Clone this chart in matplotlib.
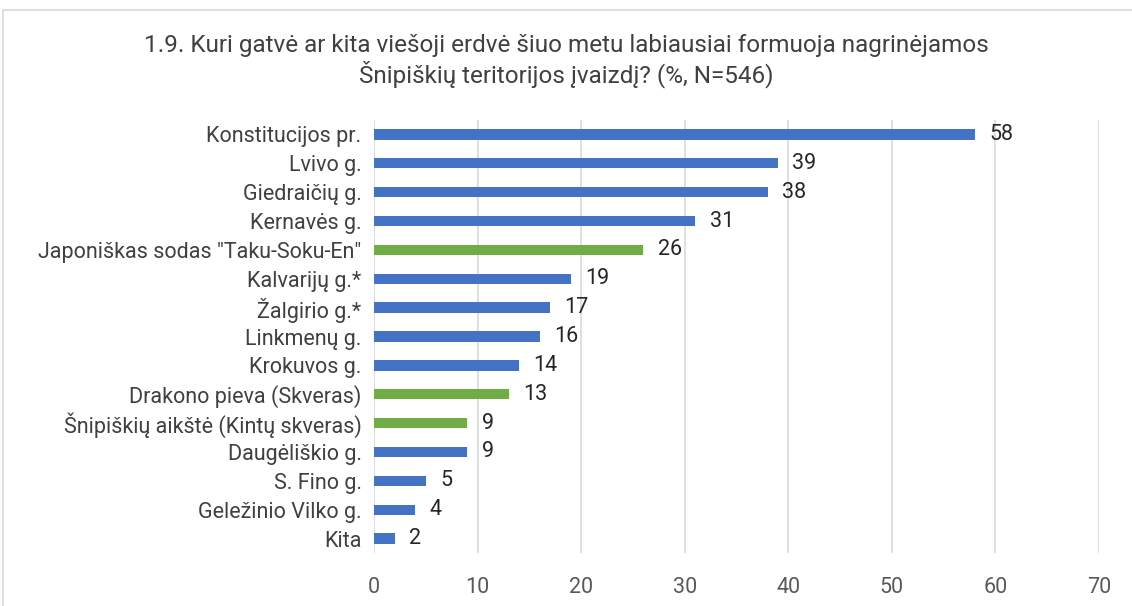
import matplotlib.pyplot as plt
from matplotlib.patches import Rectangle

categories = ['Konstitucijos pr.', 'Lvivo g.', 'Giedraičių g.', 'Kernavės g.',
              'Japoniškas sodas "Taku-Soku-En"', 'Kalvarijų g.*', 'Žalgirio g.*',
              'Linkmenų g.', 'Krokuvos g.', 'Drakono pieva (Skveras)',
              'Šnipiškių aikštė (Kintų skveras)', 'Daugėliškio g.', 'S. Fino g.',
              'Geležinio Vilko g.', 'Kita']
values = [58, 39, 38, 31, 26, 19, 17, 16, 14, 13, 9, 9, 5, 4, 2]
is_space = [False, False, False, False, True, False, False, False, False, True,
            True, False, False, False, False]
xticks = [0, 10, 20, 30, 40, 50, 60, 70]

title = ('1.9. Kuri gatvė ar kita viešoji erdvė šiuo metu labiausiai formuoja nagrinėjamos\n'
         'Šnipiškių teritorijos įvaizdį? (%, N=546)')

blue = '#4472C4'
green = '#70AD47'
txt = '#404040'

plt.rcParams['font.family'] = ['Roboto', 'DejaVu Sans']

fig = plt.figure(figsize=(11.32, 6.06), dpi=100)
# chart frame (partly cut off at the right and bottom)
fig.patches.append(Rectangle((3 / 1132, -0.1), 1.2, 1 - 10 / 606 + 0.1,
                             transform=fig.transFigure, fill=False,
                             edgecolor='#d9d9d9', linewidth=1.2))

ax = fig.add_axes([374 / 1132, 53 / 606, 725 / 1132, 433 / 606])

ypos = list(range(len(categories)))
colors = [green if s else blue for s in is_space]
ax.barh(ypos, values, height=0.36, color=colors, zorder=3)

for y, v in zip(ypos, values):
    ax.text(v + 1.4, y, str(v), va='center', ha='left', fontsize=15.5,
            color='#262626')

ax.set_xlim(0, 70)
ax.set_ylim(len(categories) - 0.5, -0.5)
ax.set_xticks(xticks)
ax.set_yticks(ypos)
ax.set_yticklabels(categories)
ax.tick_params(axis='y', length=0, pad=9, labelsize=15.5, labelcolor=txt)
ax.tick_params(axis='x', length=0, pad=17, labelsize=15.5, labelcolor='#595959')
ax.grid(axis='x', color='#d9d9d9', linewidth=1.2, zorder=0)
for s in ax.spines.values():
    s.set_visible(False)

fig.text(0.5, 1 - 61 / 606, title, ha='center', va='center', fontsize=17.5,
         color=txt, linespacing=1.2)

fig.savefig('out.png', dpi=100)
